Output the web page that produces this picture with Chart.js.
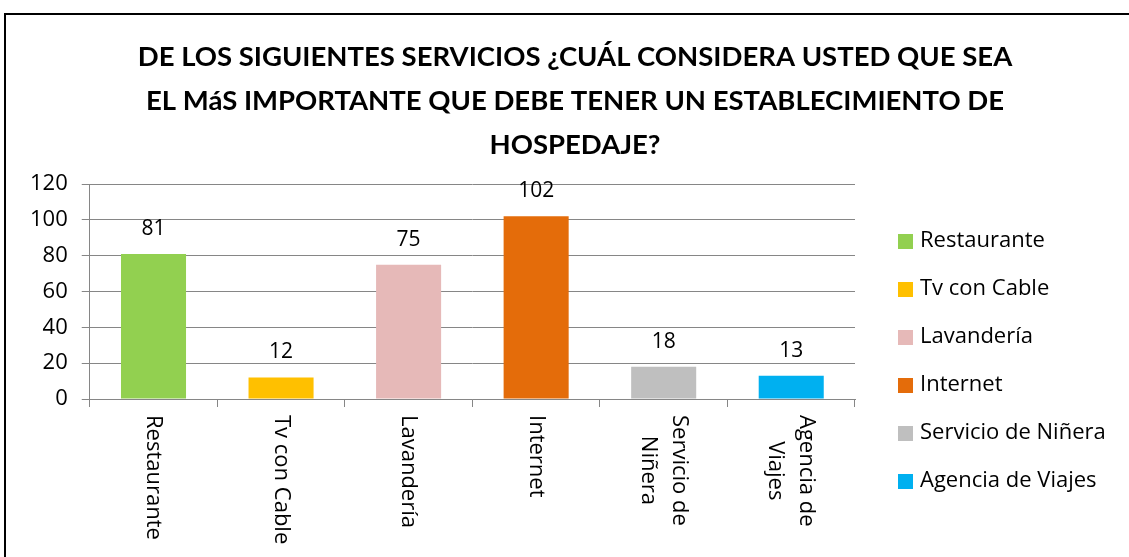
<!DOCTYPE html>
<html>
<head>
<meta charset="utf-8">
<script src="https://cdn.jsdelivr.net/npm/chart.js@4"></script>
<style>
  html, body { margin: 0; padding: 0; background: #fff; }
  #wrap { width: 1129px; height: 557px; }
</style>
</head>
<body>
<div id="wrap"><canvas id="servChart" width="1129" height="557"></canvas></div>
<script>
// datos
const categories = ['Restaurante', 'Tv con Cable', 'Lavandería', 'Internet', 'Servicio de Niñera', 'Agencia de Viajes'];
const axisLabels = [['Restaurante'], ['Tv con Cable'], ['Lavandería'], ['Internet'], ['Servicio de', 'Niñera'], ['Agencia de', 'Viajes']];
const values = [81, 12, 75, 102, 18, 13];
const barColors = ['#92d050', '#ffc000', '#e6b9b8', '#e46c0a', '#bfbfbf', '#00b0f0'];
const yTicks = [0, 20, 40, 60, 80, 100, 120];
const titleLines = [
  'DE LOS SIGUIENTES SERVICIOS ¿CUÁL CONSIDERA USTED QUE SEA',
  'EL MáS IMPORTANTE QUE DEBE TENER UN ESTABLECIMIENTO DE',
  'HOSPEDAJE?'
];

const FONT = '"Open Sans", Lato, sans-serif';
const TITLE_FONT = 'Lato, "Open Sans", sans-serif';

// marco negro alrededor del grafico
const framePlugin = {
  id: 'frame',
  beforeDraw(chart) {
    const ctx = chart.ctx;
    ctx.save();
    ctx.fillStyle = '#fff';
    ctx.fillRect(0, 0, chart.width, chart.height);
    ctx.strokeStyle = '#000';
    ctx.lineWidth = 2;
    ctx.strokeRect(5, 14, chart.width + 20, chart.height + 20);
    ctx.restore();
  }
};

// titulo centrado sobre todo el grafico (incluida la leyenda)
const titlePlugin = {
  id: 'bigTitle',
  afterDraw(chart) {
    const ctx = chart.ctx;
    ctx.save();
    ctx.font = 'bold 27.5px ' + TITLE_FONT;
    ctx.fillStyle = '#000';
    ctx.textAlign = 'center';
    ctx.textBaseline = 'middle';
    titleLines.forEach((t, i) => ctx.fillText(t, 575, 57 + i * 44));
    ctx.restore();
  }
};

// etiquetas de valor encima de las barras
const valueLabels = {
  id: 'valueLabels',
  afterDatasetsDraw(chart) {
    const ctx = chart.ctx;
    const meta = chart.getDatasetMeta(0);
    ctx.save();
    ctx.font = '21px ' + FONT;
    ctx.fillStyle = '#000';
    ctx.textAlign = 'center';
    ctx.textBaseline = 'middle';
    meta.data.forEach((bar, i) => {
      ctx.fillText(String(values[i]), bar.x, bar.y - 25);
    });
    ctx.restore();
  }
};

// etiquetas del eje x giradas 90 grados (se leen de arriba hacia abajo)
const rotatedLabels = {
  id: 'rotatedLabels',
  afterDraw(chart) {
    const ctx = chart.ctx;
    const xScale = chart.scales.x;
    const top = xScale.top + 16;
    ctx.save();
    ctx.font = '22px ' + FONT;
    ctx.fillStyle = '#000';
    ctx.textAlign = 'left';
    ctx.textBaseline = 'middle';
    const lineH = 31;
    axisLabels.forEach((lines, i) => {
      const x = xScale.getPixelForValue(i);
      const maxW = Math.max(...lines.map(t => ctx.measureText(t).width));
      ctx.save();
      ctx.translate(x, top);
      ctx.rotate(Math.PI / 2);
      lines.forEach((txt, j) => {
        const w = ctx.measureText(txt).width;
        const off = (j - (lines.length - 1) / 2) * lineH;
        ctx.fillText(txt, (maxW - w) / 2, off);
      });
      ctx.restore();
    });
    ctx.restore();
  }
};

// leyenda a la derecha, una entrada por categoria
const sideLegend = {
  id: 'sideLegend',
  afterDraw(chart) {
    const ctx = chart.ctx;
    ctx.save();
    ctx.font = '22px ' + FONT;
    ctx.textAlign = 'left';
    ctx.textBaseline = 'middle';
    categories.forEach((c, i) => {
      const y = 241 + i * 48;
      ctx.fillStyle = barColors[i];
      ctx.fillRect(898, y - 7, 15, 15);
      ctx.fillStyle = '#000';
      ctx.fillText(c, 920, y);
    });
    ctx.restore();
  }
};

new Chart(document.getElementById('servChart'), {
  type: 'bar',
  data: {
    labels: categories,
    datasets: [{
      data: values,
      backgroundColor: barColors,
      borderWidth: 0,
      barPercentage: 0.51,
      categoryPercentage: 1
    }]
  },
  plugins: [framePlugin, valueLabels, rotatedLabels, sideLegend, titlePlugin],
  options: {
    responsive: false,
    animation: false,
    layout: { padding: { left: 16, right: 274, top: 184, bottom: 150 } },
    plugins: {
      title: { display: false },
      legend: { display: false },
      tooltip: { enabled: false }
    },
    scales: {
      x: {
        ticks: { display: false },
        grid: {
          display: true,
          drawOnChartArea: false,
          drawTicks: true,
          tickLength: 8,
          color: '#868686'
        },
        border: { color: '#868686', width: 1 }
      },
      y: {
        min: 0,
        max: 120,
        afterBuildTicks(scale) {
          scale.ticks = yTicks.map(v => ({ value: v }));
        },
        ticks: {
          color: '#000',
          font: { family: FONT, size: 22 },
          padding: 14
        },
        grid: {
          color: '#868686',
          tickLength: 8
        },
        border: { color: '#868686', width: 1 }
      }
    }
  }
});
</script>
</body>
</html>
